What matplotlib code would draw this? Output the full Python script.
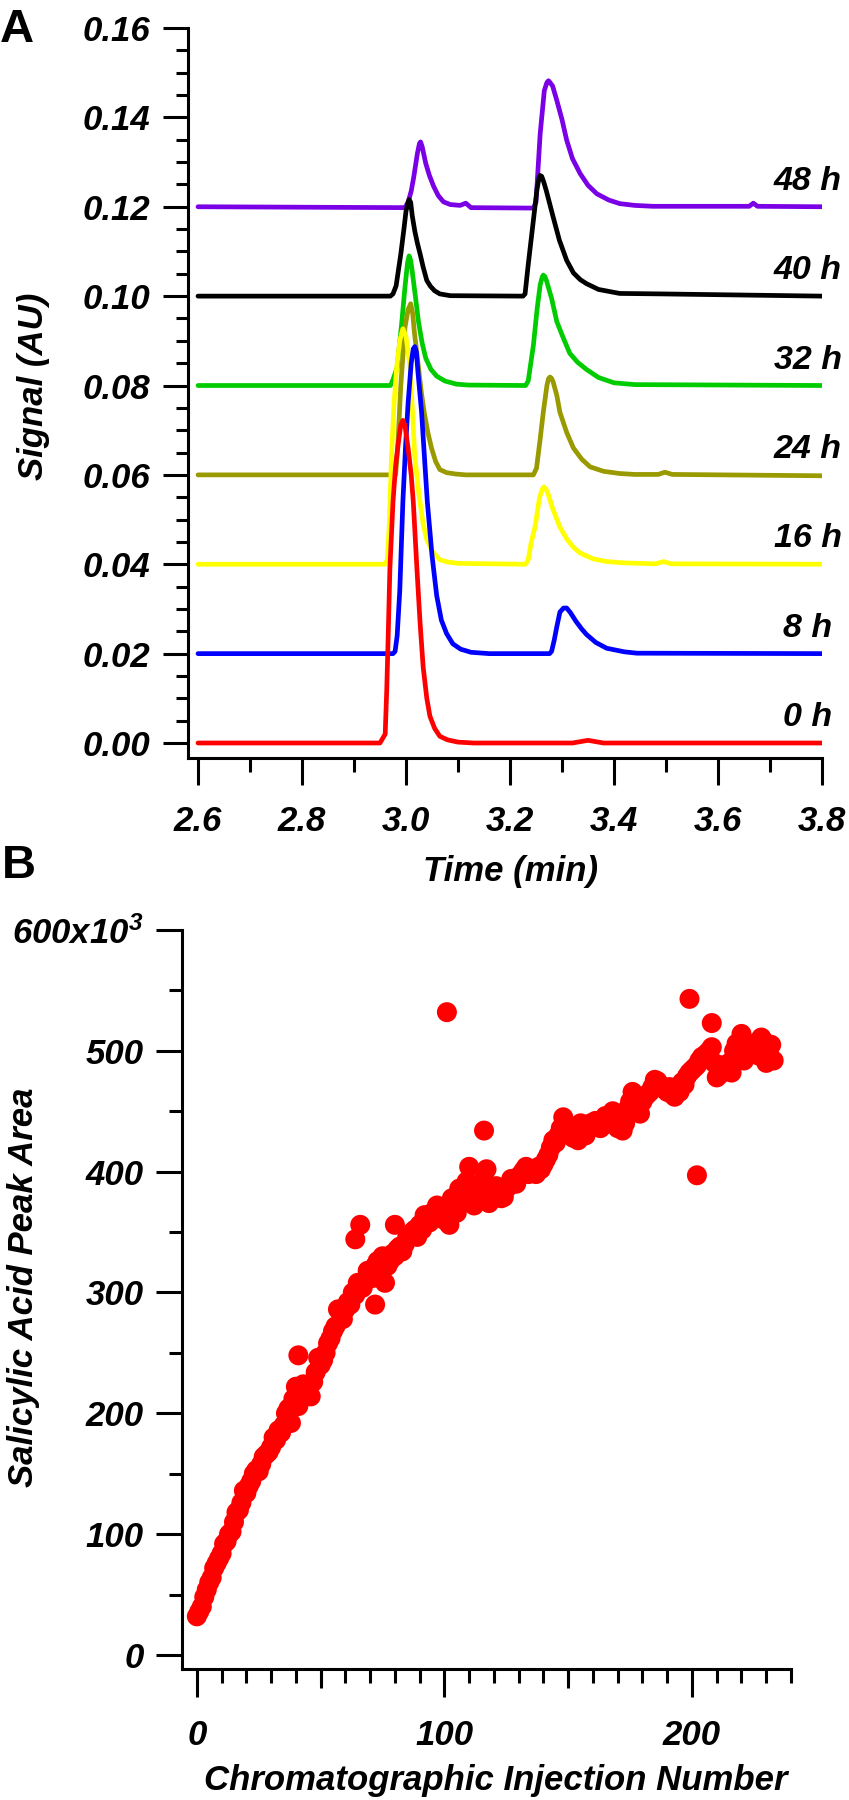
import matplotlib
matplotlib.use('Agg')
import matplotlib.pyplot as plt
from matplotlib.ticker import MultipleLocator, FormatStrFormatter, FuncFormatter

# --- panel A: chromatograms (time in min, signal in AU, already offset) ---
time_0h = [2.600, 2.950, 2.960, 2.963, 2.966, 2.969, 2.975, 2.980, 2.985, 2.990, 2.994,
           2.998, 3.004, 3.010, 3.014, 3.021, 3.027, 3.033, 3.040, 3.046, 3.055, 3.065,
           3.080, 3.100, 3.130, 3.320, 3.350, 3.380, 3.800]
signal_0h = [0.000, 0.000, 0.002, 0.012, 0.025, 0.039, 0.054, 0.062, 0.067, 0.0712, 0.0722,
             0.071, 0.066, 0.060, 0.054, 0.039, 0.027, 0.017, 0.010, 0.006, 0.0033, 0.0015,
             0.0007, 0.0002, 0.000, 0.000, 0.0006, 0.000, 0.000]

time_8h = [2.600, 2.975, 2.979, 2.983, 2.988, 2.994, 2.999, 3.004, 3.010, 3.014, 3.017,
           3.020, 3.023, 3.030, 3.036, 3.041, 3.050, 3.059, 3.068, 3.078, 3.090, 3.105,
           3.125, 3.160, 3.276, 3.280, 3.285, 3.290, 3.296, 3.303, 3.309, 3.316, 3.327,
           3.338, 3.347, 3.365, 3.386, 3.420, 3.444, 3.800]
signal_8h = [0.020, 0.020, 0.0205, 0.024, 0.034, 0.054, 0.066, 0.076, 0.085, 0.0882, 0.0887,
             0.0875, 0.083, 0.074, 0.063, 0.054, 0.042, 0.033, 0.0275, 0.0245, 0.0222, 0.021,
             0.0203, 0.020, 0.020, 0.0205, 0.023, 0.026, 0.0293, 0.0302, 0.0302, 0.0292, 0.0272,
             0.0255, 0.0243, 0.0225, 0.0212, 0.0204, 0.0201, 0.020]

time_16h = [2.600, 2.960, 2.964, 2.968, 2.972, 2.977, 2.982, 2.988, 2.994, 3.000, 3.008,
            3.012, 3.017, 3.025, 3.033, 3.040, 3.050, 3.065, 3.080, 3.100, 3.230, 3.235,
            3.241, 3.248, 3.257, 3.262, 3.265, 3.268, 3.272, 3.282, 3.296, 3.310, 3.322,
            3.335, 3.360, 3.386, 3.420, 3.480, 3.495, 3.510, 3.800]
signal_16h = [0.040, 0.040, 0.041, 0.049, 0.064, 0.076, 0.084, 0.090, 0.0927, 0.091, 0.084,
              0.075, 0.064, 0.0555, 0.049, 0.0455, 0.043, 0.041, 0.0405, 0.0402, 0.040, 0.041,
              0.045, 0.0483, 0.055, 0.0568, 0.0573, 0.057, 0.0562, 0.0525, 0.0483, 0.0455, 0.0438,
              0.0425, 0.0412, 0.0406, 0.0403, 0.0401, 0.0406, 0.0401, 0.040]

time_24h = [2.600, 2.980, 2.984, 2.990, 2.998, 3.004, 3.009, 3.013, 3.016, 3.024, 3.030,
            3.035, 3.042, 3.049, 3.057, 3.065, 3.078, 3.095, 3.115, 3.245, 3.251, 3.258,
            3.264, 3.271, 3.274, 3.277, 3.280, 3.283, 3.290, 3.296, 3.309, 3.322, 3.338,
            3.354, 3.380, 3.411, 3.440, 3.485, 3.498, 3.512, 3.800]
signal_24h = [0.060, 0.060, 0.066, 0.080, 0.093, 0.097, 0.0983, 0.096, 0.092, 0.084, 0.078,
              0.074, 0.0695, 0.066, 0.063, 0.0612, 0.0605, 0.0602, 0.060, 0.060, 0.0615, 0.068,
              0.074, 0.080, 0.0815, 0.0819, 0.0816, 0.0808, 0.0778, 0.074, 0.0695, 0.066, 0.0635,
              0.0618, 0.0608, 0.0603, 0.0601, 0.0601, 0.0606, 0.0601, 0.0598]

time_32h = [2.600, 2.970, 2.974, 2.983, 2.992, 2.998, 3.003, 3.006, 3.009, 3.012, 3.018,
            3.024, 3.031, 3.038, 3.048, 3.059, 3.075, 3.097, 3.120, 3.230, 3.235, 3.240,
            3.245, 3.252, 3.258, 3.262, 3.264, 3.267, 3.270, 3.280, 3.290, 3.303, 3.315,
            3.330, 3.347, 3.370, 3.400, 3.440, 3.800]
signal_32h = [0.080, 0.080, 0.081, 0.084, 0.0943, 0.102, 0.1075, 0.109, 0.108, 0.1055, 0.100,
              0.0943, 0.0895, 0.0861, 0.0836, 0.0821, 0.081, 0.0803, 0.0801, 0.080, 0.081, 0.085,
              0.089, 0.097, 0.1025, 0.1043, 0.1047, 0.1044, 0.1035, 0.0995, 0.0943, 0.0905, 0.0872,
              0.0852, 0.0836, 0.0818, 0.0806, 0.0802, 0.080]

time_40h = [2.600, 2.970, 2.975, 2.981, 2.990, 2.996, 3.000, 3.004, 3.006, 3.009, 3.012,
            3.017, 3.022, 3.027, 3.033, 3.040, 3.047, 3.055, 3.065, 3.085, 3.225, 3.229,
            3.235, 3.242, 3.248, 3.252, 3.256, 3.258, 3.261, 3.265, 3.270, 3.283, 3.295,
            3.309, 3.322, 3.335, 3.347, 3.370, 3.411, 3.488, 3.800]
signal_40h = [0.100, 0.100, 0.1005, 0.1023, 0.1094, 0.115, 0.119, 0.121, 0.1216, 0.121, 0.118,
              0.1145, 0.1118, 0.1095, 0.1065, 0.1035, 0.1022, 0.1012, 0.1005, 0.1001, 0.100, 0.1005,
              0.107, 0.114, 0.120, 0.124, 0.1265, 0.127, 0.1268, 0.1255, 0.1235, 0.1177, 0.1125,
              0.108, 0.1052, 0.1037, 0.1028, 0.1015, 0.1006, 0.1005, 0.100]

time_48h = [2.600, 2.998, 3.004, 3.010, 3.015, 3.022, 3.026, 3.028, 3.031, 3.038, 3.045,
            3.053, 3.062, 3.072, 3.085, 3.104, 3.115, 3.125, 3.245, 3.250, 3.258, 3.266,
            3.271, 3.274, 3.277, 3.282, 3.290, 3.300, 3.309, 3.320, 3.335, 3.350, 3.367,
            3.390, 3.411, 3.440, 3.475, 3.660, 3.668, 3.676, 3.800]
signal_48h = [0.120, 0.1198, 0.121, 0.1235, 0.1267, 0.132, 0.1342, 0.1345, 0.1335, 0.1297, 0.127,
              0.1246, 0.1225, 0.1211, 0.1205, 0.1203, 0.1208, 0.1198, 0.1197, 0.121, 0.1363, 0.146,
              0.1478, 0.1482, 0.1478, 0.147, 0.1438, 0.1395, 0.1349, 0.1308, 0.1274, 0.1248, 0.1229,
              0.1215, 0.1207, 0.1203, 0.1201, 0.1201, 0.1208, 0.1201, 0.120]

trace_labels = ['0 h', '8 h', '16 h', '24 h', '32 h', '40 h', '48 h']
baselines = [0.00, 0.02, 0.04, 0.06, 0.08, 0.10, 0.12]

# --- panel B: peak area (x10^3) vs injection number ---
injection_even = list(range(0, 233, 2))
peak_area_even = [32, 40, 54, 64, 76, 84, 94, 102, 118, 126,
                  134, 144, 153, 158, 166, 172, 178, 184, 200, 192,
                  222, 216, 220, 214, 234, 240, 250, 262, 272, 284,
                  286, 290, 298, 306, 310, 314, 322, 318, 308, 326,
                  330, 338, 340, 348, 352, 356, 364, 358, 362, 368,
                  360, 356, 374, 386, 378, 404, 372, 384, 394, 374,
                  380, 384, 379, 388, 392, 396, 401, 398, 402, 404,
                  406, 414, 426, 430, 445, 432, 428, 426, 432, 436,
                  438, 440, 438, 442, 450, 436, 434, 452, 466, 451,
                  458, 464, 470, 475, 470, 466, 464, 470, 474, 479,
                  484, 488, 495, 498, 503, 478, 488, 484, 482, 506,
                  514, 496, 498, 502, 511, 490, 505]
injection_odd = list(range(1, 234, 2))
peak_area_odd = [36, 48, 60, 72, 80, 92, 100, 110, 120, 136,
                 140, 150, 152, 164, 168, 180, 186, 190, 204, 212,
                 206, 224, 218, 226, 246, 244, 258, 268, 286, 278,
                 292, 300, 308, 304, 318, 312, 326, 330, 322, 332,
                 336, 334, 346, 350, 346, 352, 362, 366, 372, 366,
                 370, 378, 366, 380, 392, 388, 378, 380, 402, 384,
                 388, 378, 386, 394, 390, 398, 404, 400, 398, 402,
                 410, 420, 424, 436, 440, 430, 434, 440, 430, 440,
                 442, 436, 446, 444, 448, 446, 440, 458, 462, 448,
                 462, 466, 476, 472, 468, 470, 462, 466, 472, 482,
                 486, 492, 496, 500, 490, 480, 484, 490, 500, 498,
                 492, 504, 506, 496, 508, 500, 492]
outlier_injection = [41, 64, 66, 72, 80, 101, 116, 199, 202, 208]
outlier_area = [248, 344, 356, 290, 356, 532, 434, 543, 397, 523]

plt.rcParams['font.family'] = 'Liberation Sans'
plt.rcParams['font.weight'] = 'bold'
plt.rcParams['font.style'] = 'italic'
plt.rcParams['axes.labelweight'] = 'bold'
plt.rcParams['mathtext.fontset'] = 'custom'
plt.rcParams['mathtext.rm'] = 'Liberation Sans:italic'
plt.rcParams['mathtext.it'] = 'Liberation Sans:italic'

W, H = 849, 1800
fig = plt.figure(figsize=(W / 100, H / 100), dpi=100)

# ---------------- panel A ----------------
axA = fig.add_axes([188 / W, 1 - 758 / H, (822 - 188) / W, (758 - 28) / H])
traces = [(time_48h, signal_48h, '#7a00e6'),
          (time_40h, signal_40h, 'black'),
          (time_32h, signal_32h, '#00cc00'),
          (time_24h, signal_24h, '#999900'),
          (time_16h, signal_16h, '#ffff00'),
          (time_8h, signal_8h, '#0000ff'),
          (time_0h, signal_0h, '#ff0000')]
for t, s, c in traces:
    axA.plot(t, s, color=c, lw=3.4, solid_joinstyle='round', solid_capstyle='round')

for lab, b in zip(trace_labels, baselines):
    axA.text(3.773, b + 0.0057, lab, ha='center', va='center', fontsize=24.5, clip_on=False)

axA.set_xlim(2.6 - 10 / 520, 3.8)
axA.set_ylim(-15 / 4470, 0.16)
axA.xaxis.set_major_locator(MultipleLocator(0.2))
axA.xaxis.set_minor_locator(MultipleLocator(0.1))
axA.yaxis.set_major_locator(MultipleLocator(0.02))
axA.yaxis.set_minor_locator(MultipleLocator(0.005))
axA.xaxis.set_major_formatter(FormatStrFormatter('%.1f'))
axA.yaxis.set_major_formatter(FormatStrFormatter('%.2f'))
axA.tick_params(axis='y', which='major', length=18, width=2.2, labelsize=25, pad=9)
axA.tick_params(axis='y', which='minor', length=8.5, width=2.2)
axA.tick_params(axis='x', which='major', length=19.5, width=2.2, labelsize=25, pad=14)
axA.tick_params(axis='x', which='minor', length=10, width=2.2)
axA.set_xlabel('Time (min)', fontsize=25, fontweight='bold')
axA.set_ylabel('Signal (AU)', fontsize=25, fontweight='bold')
axA.xaxis.set_label_coords((511 - 188) / 634, (758 - 855) / 730)
axA.yaxis.set_label_coords((50 - 188) / 634, (758 - 386) / 730)

# ---------------- panel B ----------------
axB = fig.add_axes([182 / W, 1 - 1669 / H, (791 - 182) / W, (1669 - 930) / H])
all_inj = injection_even + injection_odd + outlier_injection
all_area = peak_area_even + peak_area_odd + outlier_area
axB.scatter(all_inj, all_area, s=207, c='#ff0000', edgecolors='none', zorder=3)
axB.set_xlim(-6, 240)
axB.set_ylim(-11.6, 600)
axB.xaxis.set_major_locator(MultipleLocator(100))
axB.xaxis.set_minor_locator(MultipleLocator(10))
axB.yaxis.set_major_locator(MultipleLocator(100))
axB.yaxis.set_minor_locator(MultipleLocator(50))
axB.xaxis.set_major_formatter(FormatStrFormatter('%d'))
axB.yaxis.set_major_formatter(FuncFormatter(
    lambda v, p: r'600x10$^{3}$' if abs(v - 600) < 1e-6 else '%d' % v))
axB.tick_params(axis='y', which='major', length=18.7, width=2.2, labelsize=25, pad=9)
axB.tick_params(axis='y', which='minor', length=9.5, width=2.2)
axB.tick_params(axis='x', which='major', length=20, width=2.2, labelsize=25, pad=16)
axB.tick_params(axis='x', which='minor', length=10, width=2.2)
sec = axB.secondary_xaxis('bottom')
sec.set_xticks([50, 150])
sec.tick_params(length=13.7, width=2.2, labelbottom=False)
sec.spines['bottom'].set_visible(False)
axB.set_xlabel('Chromatographic Injection Number', fontsize=25, fontweight='bold')
axB.set_ylabel('Salicylic Acid Peak Area', fontsize=25, fontweight='bold')
axB.xaxis.set_label_coords((496 - 182) / 609, (1669 - 1764) / 739)
axB.yaxis.set_label_coords((40 - 182) / 609, (1669 - 1287) / 739)

for ax in (axA, axB):
    ax.spines['top'].set_visible(False)
    ax.spines['right'].set_visible(False)
    ax.spines['left'].set_linewidth(2.2)
    ax.spines['bottom'].set_linewidth(2.2)

fig.text(0 / W, 1 - 42 / H, 'A', fontsize=34, fontstyle='normal', fontweight='bold', va='baseline')
fig.text(2 / W, 1 - 878 / H, 'B', fontsize=34, fontstyle='normal', fontweight='bold', va='baseline')

fig.savefig('out.png', dpi=100)
